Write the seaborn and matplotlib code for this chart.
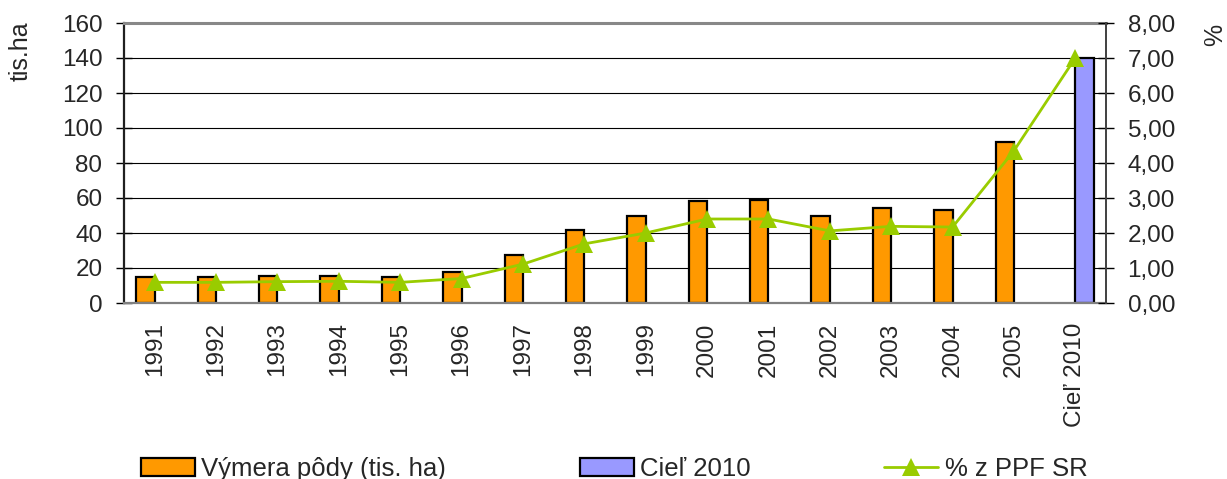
import numpy as np
import pandas as pd
import matplotlib
matplotlib.use("Agg")
import matplotlib.pyplot as plt
import matplotlib.patches as mpatches
from matplotlib.lines import Line2D
from matplotlib.ticker import FuncFormatter, FixedLocator
import seaborn as sns

# ---- data ----
years = ['1991', '1992', '1993', '1994', '1995', '1996', '1997', '1998',
         '1999', '2000', '2001', '2002', '2003', '2004', '2005', 'Cieľ 2010']
area = [15.0, 15.0, 15.2, 15.6, 15.0, 17.7, 27.6, 41.7,
        49.5, 58.3, 58.7, 49.9, 54.5, 53.0, 92.2, None]
target = [None] * 15 + [140.0]
pct = [0.59, 0.59, 0.61, 0.62, 0.59, 0.70, 1.11, 1.69,
       2.00, 2.40, 2.40, 2.06, 2.19, 2.17, 4.35, 7.00]
series_names = ['Výmera pôdy (tis. ha)', 'Cieľ 2010']
line_name = '% z PPF SR'
left_ticks = [0, 20, 40, 60, 80, 100, 120, 140, 160]
right_ticks = [0, 1, 2, 3, 4, 5, 6, 7, 8]

ORANGE = '#FF9900'
BLUE = '#9999FF'
GREEN = '#99CC00'

rows = []
for y, a, t in zip(years, area, target):
    if a is not None:
        rows.append((y, a, series_names[0]))
    if t is not None:
        rows.append((y, t, series_names[1]))
df = pd.DataFrame(rows, columns=['year', 'value', 'series'])
df_line = pd.DataFrame({'pos': np.arange(len(years)), 'pct': pct})

sns.set_style('white')
plt.rcParams['font.family'] = ['Liberation Sans', 'DejaVu Sans']

fig = plt.figure(figsize=(12.27, 4.79), dpi=100)
ax = fig.add_axes([124 / 1227, 1 - 303 / 479, (1106 - 124) / 1227, 280 / 479])

sns.barplot(data=df, x='year', y='value', hue='series', order=years,
            hue_order=series_names, palette=[ORANGE, BLUE], width=0.6,
            dodge=True, edgecolor='black', linewidth=1.6, ax=ax,
            legend=False, errorbar=None, saturation=1)

ax.set_ylim(0, 160)
ax.set_xlim(-0.5, len(years) - 0.5)
ax.set_yticks(left_ticks)
ax.set_axisbelow(True)
ax.yaxis.grid(True, color='black', linewidth=0.8)
ax.xaxis.grid(False)

ax.set_xticks(range(len(years)))
ax.set_xticklabels(years, rotation=90, fontsize=17.5)
ax.xaxis.set_minor_locator(FixedLocator(np.arange(-0.5, len(years), 1)))
ax.tick_params(axis='x', which='major', length=0, pad=14)
ax.tick_params(axis='x', which='minor', length=6, width=1.0, color='#404040',
               direction='out')
ax.tick_params(axis='y', which='major', length=11, width=1.0, direction='inout',
               pad=10, labelsize=17.5, color='black', left=True)
ax.set_xlabel('')
ax.set_ylabel('tis.ha', fontsize=18)
ax.yaxis.label.set_va('center')
ax.yaxis.set_label_coords((21 - 124) / 982, (303 - 51) / 280)

for side, sp in ax.spines.items():
    sp.set_visible(True)
ax.spines['left'].set_color('#202020')
ax.spines['left'].set_linewidth(1.6)
ax.spines['top'].set_color('#888888')
ax.spines['top'].set_linewidth(2.2)
ax.spines['bottom'].set_color('#808080')
ax.spines['bottom'].set_linewidth(1.6)
ax.spines['right'].set_visible(False)

ax2 = ax.twinx()
sns.lineplot(data=df_line, x='pos', y='pct', ax=ax2, color=GREEN,
             linewidth=2.0, marker='^', markersize=13.5, markeredgewidth=0,
             markerfacecolor=GREEN, legend=False)
ax2.set_ylim(0, 8)
ax2.set_xlim(-0.5, len(years) - 0.5)
ax2.set_yticks(right_ticks)
ax2.yaxis.set_major_formatter(FuncFormatter(lambda v, p: f"{v:.2f}".replace('.', ',')))
ax2.tick_params(axis='y', which='major', length=11, width=1.0, direction='inout',
                pad=10, labelsize=17.5, color='black', right=True)
ax2.set_xlabel('')
ax2.set_ylabel('%', fontsize=18)
ax2.yaxis.label.set_va('center')
ax2.yaxis.set_label_coords((1215 - 124) / 982, (303 - 35) / 280)
ax2.grid(False)
for side in ['left', 'top', 'bottom']:
    ax2.spines[side].set_visible(False)
ax2.spines['right'].set_visible(True)
ax2.spines['right'].set_color('#404040')
ax2.spines['right'].set_linewidth(1.4)

handles = [
    mpatches.Patch(facecolor=ORANGE, edgecolor='black', linewidth=1.6, label=series_names[0]),
    mpatches.Patch(facecolor=BLUE, edgecolor='black', linewidth=1.6, label=series_names[1]),
    Line2D([0], [0], color=GREEN, linewidth=2.0, marker='^', markersize=13.5,
           markeredgewidth=0, label=line_name),
]
fig.legend(handles=handles, loc='center left',
           bbox_to_anchor=(141 / 1227, 1 - 469 / 479), ncol=3, frameon=False,
           fontsize=18.5, borderpad=0, borderaxespad=0, handlelength=2.1,
           handleheight=0.68, handletextpad=0.25, columnspacing=5.2)

fig.savefig('out.png', dpi=100)
